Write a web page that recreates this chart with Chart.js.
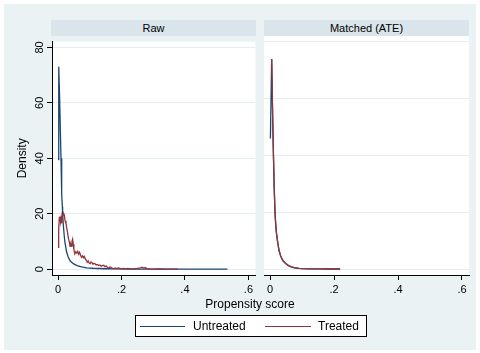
<!DOCTYPE html>
<html>
<head>
<meta charset="utf-8">
<script src="https://cdn.jsdelivr.net/npm/chart.js@4.4.1/dist/chart.umd.min.js"></script>
<style>
  body { margin: 0; background: #fff; font-family: 'Liberation Sans', Arial, sans-serif; color: #000; }
  #wrap { position: relative; width: 480px; height: 353px; overflow: hidden; }
  #bg { position: absolute; left: 4px; top: 4px; width: 472px; height: 346px; background: #EAF2F3; }
  .strip { position: absolute; top: 20px; height: 16px; background: #D9E5EA; font-size: 11px; line-height: 16px; text-align: center; }
  canvas { position: absolute; }
  #xtitle { position: absolute; left: 150px; width: 200px; top: 296px; text-align: center; font-size: 12px; line-height: 16px; }
  #legend { position: absolute; left: 135px; top: 315px; width: 230px; height: 20px; background: #fff; border: 1px solid #000; }
  .key { position: absolute; top: 10px; height: 1.3px; }
  .lab { position: absolute; top: 2px; font-size: 12px; line-height: 16px; }
</style>
</head>
<body>
<div id="wrap">
  <div id="bg"></div>
  <div class="strip" style="left:51px;width:205px;">Raw</div>
  <div class="strip" style="left:264px;width:205px;">Matched (ATE)</div>
  <canvas id="rawChart" width="256" height="263" style="left:0px;top:34px;"></canvas>
  <canvas id="ateChart" width="216" height="263" style="left:264px;top:34px;"></canvas>
  <div id="xtitle">Propensity score</div>
  <div id="legend"></div>
</div>
<script>
// series names / colours
const seriesNames = ['Untreated', 'Treated'];
const seriesColors = ['#1A476F', '#90353B'];

// axis ticks
const xTicks = [0, 0.2, 0.4, 0.6];
const xTickLabels = ['0', '.2', '.4', '.6'];
const yTicks = [0, 20, 40, 60, 80];
const yTickLabels = ['0', '20', '40', '60', '80'];

// Raw panel - untreated density
const rawUntreatedX = [0, 0.0015, 0.003, 0.005, 0.0075, 0.0094, 0.0115, 0.0136, 0.0145, 0.017, 0.02, 0.022, 0.027, 0.032,
    0.038, 0.048, 0.06, 0.074, 0.09, 0.11, 0.127, 0.15, 0.18, 0.22, 0.3, 0.4, 0.534];
const rawUntreatedY = [39.5, 56, 73, 62, 49, 40, 27, 22.5, 20, 15.5, 11.5, 9.5, 6.2, 4.4,
    3.0, 2.0, 1.3, 0.8, 0.5, 0.33, 0.25, 0.15, 0.08, 0.04, 0.02, 0.01, 0.0];

// Raw panel - treated density
const rawTreatedX = [0, 0.002, 0.004, 0.006, 0.008, 0.010, 0.012, 0.014, 0.016, 0.018, 0.020, 0.022, 0.025, 0.028, 0.030,
    0.033, 0.036, 0.038, 0.040, 0.042, 0.044, 0.046, 0.048, 0.050, 0.053, 0.056, 0.059, 0.062, 0.065, 0.068,
    0.071, 0.074, 0.077, 0.080, 0.083, 0.086, 0.089, 0.092, 0.095, 0.098, 0.101, 0.104, 0.107, 0.110, 0.113,
    0.116, 0.120, 0.124, 0.128, 0.132, 0.136, 0.140, 0.144, 0.148, 0.152, 0.156, 0.160, 0.164, 0.168, 0.172,
    0.176, 0.180, 0.185, 0.190, 0.195, 0.200, 0.205, 0.210, 0.215, 0.22, 0.23, 0.24, 0.25, 0.26, 0.265,
    0.27, 0.275, 0.28, 0.29, 0.30, 0.32, 0.34, 0.36, 0.378];
const rawTreatedY = [7.9, 14, 18.5, 19, 17, 18.8, 16.5, 19, 19.6, 20, 19.5, 17.5, 16.5, 14.5, 13.2,
    11, 9.6, 8.2, 9, 8.3, 10, 10.8, 9, 7, 5.5, 6.3, 5.8, 6.4, 5.4, 6.1,
    5, 4.3, 4.8, 4.1, 4.6, 3.7, 3.2, 2.5, 3.0, 2.2, 2.0, 2.6, 2.3, 1.8, 2.1,
    2.0, 1.5, 1.7, 1.3, 1.5, 1.1, 1.3, 1.4, 0.9, 1.1, 0.6, 0.5, 0.8, 0.6, 0.3,
    0.2, 0.4, 0.2, 0.45, 0.3, 0.15, 0.3, 0.2, 0.1, 0.3, 0.1, 0.15, 0.3, 0.5, 0.7,
    0.4, 0.6, 0.2, 0.1, 0.05, 0.1, 0.05, 0.02, 0.01];

// Matched (ATE) panel
const ateUntreatedX = [0.001, 0.005, 0.0075, 0.0105, 0.013, 0.0157, 0.019, 0.023, 0.028, 0.033, 0.04, 0.048, 0.056,
    0.065, 0.078, 0.09, 0.1, 0.12, 0.15, 0.18, 0.219];
const ateUntreatedY = [46, 74, 57, 40, 28, 19, 13.5, 10, 6.5, 4.6, 3.0, 2.0, 1.3,
    0.8, 0.45, 0.25, 0.15, 0.08, 0.04, 0.02, 0.01];
const ateTreatedX = [0.0035, 0.005, 0.0075, 0.0105, 0.013, 0.0157, 0.019, 0.023, 0.028, 0.033, 0.04, 0.048, 0.056,
    0.065, 0.078, 0.09, 0.1, 0.12, 0.15, 0.18, 0.219];
const ateTreatedY = [72, 74, 57.5, 40.5, 28.5, 19.3, 13.7, 10.1, 6.6, 4.7, 3.0, 2.0, 1.35,
    0.85, 0.45, 0.25, 0.15, 0.08, 0.04, 0.02, 0.01];

const X_MIN = -0.019, X_MAX = 0.622;
const Y_MIN = -2.1, Y_MAX = 82.1;
const FONT = "'Liberation Sans', Arial, sans-serif";

const toPoints = (xs, ys) => xs.map((x, i) => ({ x: x, y: ys[i] }));

// white plot region
const plotBg = {
    id: 'plotBg',
    beforeDraw: function(chart) {
        const a = chart.chartArea;
        chart.ctx.save();
        chart.ctx.fillStyle = '#fff';
        chart.ctx.fillRect(a.left, a.top, a.right - a.left, a.bottom - a.top);
        chart.ctx.restore();
    }
};

function makeDatasets(ux, uy, tx, ty) {
    return [
        { label: seriesNames[0], data: toPoints(ux, uy), borderColor: seriesColors[0], order: 2 },
        { label: seriesNames[1], data: toPoints(tx, ty), borderColor: seriesColors[1], order: 1 }
    ].map(d => Object.assign(d, { borderWidth: 1.3, pointRadius: 0, tension: 0, fill: false }));
}

function makeOptions(showY) {
    const yAxis = {
        min: Y_MIN, max: Y_MAX, bounds: 'data',
        afterBuildTicks: s => { s.ticks = yTicks.map(v => ({ value: v })); },
        afterFit: s => { s.width = showY ? 52 : 0; },
        grid: { color: '#E4EDF0', lineWidth: 1, tickColor: '#000', tickLength: 5, drawTicks: showY },
        border: { display: showY, color: '#000', width: 1 },
        ticks: {
            display: showY, minRotation: 90, maxRotation: 90, crossAlign: 'center', padding: 1,
            color: '#000', font: { family: FONT, size: 11 },
            callback: (v, i) => yTickLabels[i]
        }
    };
    if (showY) {
        yAxis.title = { display: true, text: 'Density', color: '#000', font: { family: FONT, size: 12 }, padding: { top: 15, bottom: 0 } };
    }
    return {
        responsive: false,
        animation: false,
        devicePixelRatio: 1,
        layout: { padding: { top: 2, right: showY ? 0 : 11, bottom: 0, left: 0 } },
        plugins: { legend: { display: false }, tooltip: { enabled: false } },
        scales: {
            x: {
                type: 'linear', min: X_MIN, max: X_MAX, bounds: 'data',
                afterBuildTicks: s => { s.ticks = xTicks.map(v => ({ value: v })); },
                afterFit: s => { s.height = 22; },
                grid: { drawOnChartArea: false, tickColor: '#000', tickLength: 5 },
                border: { color: '#000', width: 1 },
                ticks: {
                    maxRotation: 0, autoSkip: false, padding: 3, color: '#000',
                    font: { family: FONT, size: 11 },
                    callback: (v, i) => xTickLabels[i]
                }
            },
            y: yAxis
        }
    };
}

new Chart(document.getElementById('rawChart'), {
    type: 'line',
    data: { datasets: makeDatasets(rawUntreatedX, rawUntreatedY, rawTreatedX, rawTreatedY) },
    options: makeOptions(true),
    plugins: [plotBg]
});

new Chart(document.getElementById('ateChart'), {
    type: 'line',
    data: { datasets: makeDatasets(ateUntreatedX, ateUntreatedY, ateTreatedX, ateTreatedY) },
    options: makeOptions(false),
    plugins: [plotBg]
});

// legend (html)
const legend = document.getElementById('legend');
const keyLeft = [4, 129], labLeft = [57, 182], keyWidth = [45, 46];
seriesNames.forEach((name, i) => {
    const k = document.createElement('div');
    k.className = 'key';
    k.style.left = keyLeft[i] + 'px';
    k.style.width = keyWidth[i] + 'px';
    k.style.background = seriesColors[i];
    legend.appendChild(k);
    const l = document.createElement('div');
    l.className = 'lab';
    l.style.left = labLeft[i] + 'px';
    l.textContent = name;
    legend.appendChild(l);
});
</script>
</body>
</html>
